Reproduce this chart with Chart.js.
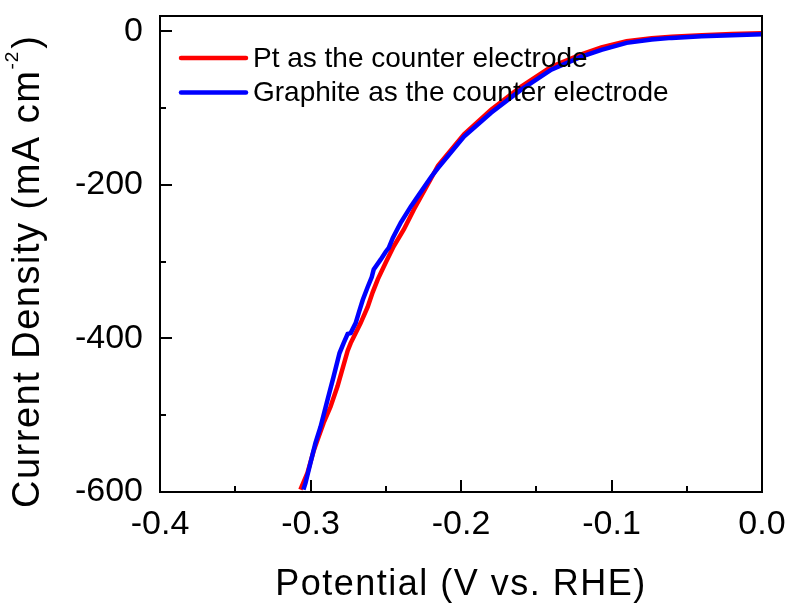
<!DOCTYPE html>
<html>
<head>
<meta charset="utf-8">
<script src="https://cdn.jsdelivr.net/npm/chart.js@4.4.0/dist/chart.umd.min.js"></script>
<style>
    html, body { margin: 0; padding: 0; background: #fff; }
    #chart-container-lsv { width: 791px; height: 604px; }
</style>
</head>
<body>
<div id="chart-container-lsv"><canvas id="chart-lsv"></canvas></div>
<script>
                        /*
                            ========================
                              DATOS (LSV, HER)
                            ========================
                                                      */
let xTicks = [-0.4, -0.3, -0.2, -0.1, 0.0];
let xMinorTicks = [-0.35, -0.25, -0.15, -0.05];
let yTicks = [-600, -400, -200, 0];
let yMinorTicks = [-500, -300, -100];

let seriesNames = ['Pt as the counter electrode', 'Graphite as the counter electrode'];
let seriesColors = ['#ff0000', '#0000ff'];

// Pt
let ptPotential = [0.000, -0.020, -0.040, -0.060, -0.0733, -0.090, -0.1067, -0.120, -0.140, -0.160,
    -0.180, -0.198, -0.2153, -0.220, -0.2313, -0.238, -0.2447, -0.250, -0.2553, -0.2587,
    -0.262, -0.2667, -0.2713, -0.2733, -0.2753, -0.282, -0.2867, -0.2913, -0.2953, -0.298,
    -0.302, -0.3067];
let ptCurrent = [-2.6, -3.6, -5.0, -7.0, -9.0, -13, -21, -30, -46, -72,
    -102, -134, -175, -192, -232, -258, -280, -301, -323, -340,
    -359, -380, -398, -406, -416, -462, -489, -510, -532, -547,
    -575, -597];

// Grafito
let graphitePotential = [0.000, -0.020, -0.040, -0.060, -0.0733, -0.090, -0.1067, -0.120, -0.140, -0.160,
    -0.180, -0.198, -0.2153, -0.220, -0.228, -0.2333, -0.240, -0.2453, -0.248, -0.250,
    -0.2533, -0.258, -0.2593, -0.262, -0.2653, -0.268, -0.270, -0.2733, -0.2753, -0.278,
    -0.2807, -0.2847, -0.2887, -0.2933, -0.2967, -0.300, -0.3033, -0.3047];
let graphiteCurrent = [-3.9, -5.0, -6.5, -8.5, -10.5, -15, -24, -33, -50, -76,
    -106, -137, -178, -190, -213, -228, -249, -269, -282, -287,
    -297, -310, -320, -333, -350, -367, -380, -393, -394, -406,
    -419, -450, -480, -515, -536, -562, -588, -597];

let fuente = '"Liberation Sans", Arial, sans-serif';

function puntos(xs, ys) {
    return xs.map((x, i) => ({ x: x, y: ys[i] }));
}

let datosLSV = {
    datasets: [
        {
            label: seriesNames[0],
            data: puntos(ptPotential, ptCurrent),
            borderColor: seriesColors[0],
            backgroundColor: seriesColors[0],
            borderWidth: 4.5,
            pointRadius: 0,
            tension: 0,
            fill: false,
            order: 1,
        },
        {
            label: seriesNames[1],
            data: puntos(graphitePotential, graphiteCurrent),
            borderColor: seriesColors[1],
            backgroundColor: seriesColors[1],
            borderWidth: 4.5,
            pointRadius: 0,
            tension: 0,
            fill: false,
            order: 0,
        },
    ]
};

// marco, ticks hacia dentro, leyenda y títulos de ejes
let marcoPlugin = {
    id: 'marco',
    afterDraw(chart) {
        let ctx = chart.ctx;
        let area = chart.chartArea;
        let sx = chart.scales.x;
        let sy = chart.scales.y;
        ctx.save();
        ctx.strokeStyle = '#000';
        ctx.lineWidth = 2;
        ctx.strokeRect(area.left, area.top, area.right - area.left, area.bottom - area.top);

        ctx.beginPath();
        xTicks.forEach(v => {
            let px = Math.round(sx.getPixelForValue(v));
            ctx.moveTo(px, area.bottom);
            ctx.lineTo(px, area.bottom - 12);
        });
        xMinorTicks.forEach(v => {
            let px = Math.round(sx.getPixelForValue(v));
            ctx.moveTo(px, area.bottom);
            ctx.lineTo(px, area.bottom - 6);
        });
        yTicks.forEach(v => {
            let py = Math.round(sy.getPixelForValue(v));
            ctx.moveTo(area.left, py);
            ctx.lineTo(area.left + 12, py);
        });
        yMinorTicks.forEach(v => {
            let py = Math.round(sy.getPixelForValue(v));
            ctx.moveTo(area.left, py);
            ctx.lineTo(area.left + 6, py);
        });
        ctx.stroke();

        // leyenda
        chart.data.datasets.forEach((ds, i) => {
            let y = area.top + 42 + i * 34.5;
            ctx.beginPath();
            ctx.strokeStyle = ds.borderColor;
            ctx.lineWidth = 4.5;
            ctx.lineCap = 'round';
            ctx.moveTo(area.left + 21, y);
            ctx.lineTo(area.left + 86, y);
            ctx.stroke();
            ctx.fillStyle = '#000';
            ctx.font = '28px ' + fuente;
            ctx.textAlign = 'left';
            ctx.textBaseline = 'middle';
            ctx.fillText(ds.label, area.left + 93, y + 1);
        });

        // título eje x
        ctx.fillStyle = '#000';
        ctx.font = '36px ' + fuente;
        ctx.letterSpacing = '1.5px';
        ctx.textAlign = 'center';
        ctx.textBaseline = 'alphabetic';
        ctx.fillText('Potential (V vs. RHE)', (area.left + area.right) / 2, 595);

        // título eje y (con superíndice)
        ctx.translate(39, 508);
        ctx.rotate(-Math.PI / 2);
        ctx.textAlign = 'left';
        ctx.font = '38px ' + fuente;
        let principal = 'Current Density (mA cm';
        ctx.fillText(principal, 0, 0);
        let w = ctx.measureText(principal).width;
        ctx.font = '19px ' + fuente;
        ctx.letterSpacing = '1px';
        ctx.fillText('-2', w, -21);
        let w2 = ctx.measureText('-2').width;
        ctx.font = '38px ' + fuente;
        ctx.letterSpacing = '1.5px';
        ctx.fillText(')', w + w2 + 2, 0);
        ctx.restore();
    }
};

let opcionesLSV = {
    responsive: true,
    maintainAspectRatio: false,
    animation: false,
    devicePixelRatio: 1,
    layout: {
        padding: { left: 0, right: 29, top: 16, bottom: 0 }
    },
    scales: {
        x: {
            type: 'linear',
            min: -0.4,
            max: 0,
            afterBuildTicks: scale => { scale.ticks = xTicks.map(v => ({ value: v })); },
            afterFit: scale => {
                scale.height = 112;
                scale.paddingLeft = 0;
                scale.paddingRight = 0;
            },
            grid: { display: false, drawTicks: false },
            border: { display: false },
            ticks: {
                color: '#000',
                padding: 12,
                maxRotation: 0,
                font: { family: fuente, size: 34 },
                callback: v => Number(v).toFixed(1)
            }
        },
        y: {
            type: 'linear',
            min: -600,
            max: 20,
            afterBuildTicks: scale => { scale.ticks = yTicks.map(v => ({ value: v })); },
            afterFit: scale => {
                scale.width = 160;
                scale.paddingTop = 0;
                scale.paddingBottom = 0;
            },
            grid: { display: false, drawTicks: false },
            border: { display: false },
            ticks: {
                color: '#000',
                padding: 17,
                font: { family: fuente, size: 34 },
                callback: v => String(v)
            }
        }
    },
    plugins: {
        legend: false,
        tooltip: { enabled: false },
        title: { display: false }
    }
}//opciones

let ctxLSV = document.getElementById('chart-lsv');

let graficaLSV = new Chart(ctxLSV, {
    type: 'line',
    data: datosLSV,
    options: opcionesLSV,
    plugins: [marcoPlugin]
});
</script>
</body>
</html>
